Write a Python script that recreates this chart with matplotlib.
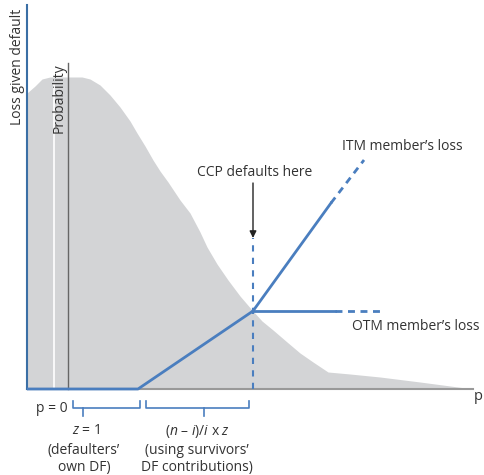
import matplotlib
matplotlib.use("Agg")
import matplotlib.pyplot as plt

plt.rcParams["font.family"] = ["Open Sans", "DejaVu Sans"]
plt.rcParams["mathtext.fontset"] = "custom"
plt.rcParams["mathtext.it"] = "Open Sans:italic"
plt.rcParams["mathtext.rm"] = "Open Sans"

# Probability density of losses (x = loss, y = height above axis)
dens_x = [0, 8, 15, 23, 55, 63, 73, 83, 93, 103, 110, 118, 126, 133, 141, 153,
          163, 173, 180, 190, 201, 213, 225, 235, 246, 260, 273, 286, 295, 301,
          323, 353, 393, 446]
dens_y = [296, 303, 310, 312, 312, 310, 304, 294, 282, 268, 256, 243, 229, 218,
          207, 189, 176, 157, 142, 125, 109, 93, 79, 68, 59, 47, 36, 27, 21, 17,
          15, 12, 7, 0]

# Loss given default path and the two branches after CCP default
lgd_x = [0, 111, 226]
lgd_y = [0, 0, 78]
itm_solid_x, itm_solid_y = [226, 304], [78, 186]
itm_dash_x, itm_dash_y = [304, 337], [186, 229]
otm_solid_x, otm_solid_y = [226, 308], [78, 78]
otm_dash_x, otm_dash_y = [308, 355], [78, 78]
ccp_x = 226

BLUE = "#4a7ebf"
GREY = "#d3d4d6"
TXT = "#333333"
FS = 10

fig = plt.figure(figsize=(4.85, 4.75), dpi=100)
ax = fig.add_axes([0, 0, 1, 1])
ax.set_xlim(-27, 458)
ax.set_ylim(-86, 389)
ax.axis("off")

ax.fill_between(dens_x, 0, dens_y, color=GREY, lw=0, zorder=1)
ax.plot([27, 27], [0, 304], color="white", lw=1.2, zorder=2)
ax.plot([41, 41], [0, 326], color="#666666", lw=1.0, zorder=2)
ax.text(32, 291, "Probability", rotation=90, ha="center", va="center",
        fontsize=FS, color=TXT, zorder=3)

# axes
ax.plot([0, 446], [0, 0], color="#999999", lw=1.5, zorder=2)
ax.plot([0, 0], [0, 384], color="#3a6fa5", lw=1.5, zorder=4)
ax.text(-9, 322, "Loss given default", rotation=90, ha="center", va="center",
        fontsize=FS, color=TXT)
ax.text(451, -7, "p", ha="center", va="center", fontsize=FS + 0.5, color=TXT)

# loss lines
ax.plot(lgd_x, lgd_y, color=BLUE, lw=2, zorder=5, solid_capstyle="butt")
ax.plot(itm_solid_x, itm_solid_y, color=BLUE, lw=2, zorder=5)
ax.plot(itm_dash_x, itm_dash_y, color=BLUE, lw=2, ls=(0, (2.5, 2)), zorder=5)
ax.plot(otm_solid_x, otm_solid_y, color=BLUE, lw=2, zorder=5)
ax.plot(otm_dash_x, otm_dash_y, color=BLUE, lw=2, ls=(0, (2.5, 2)), zorder=5)
ax.plot([ccp_x, ccp_x], [0, 151], color=BLUE, lw=1.5, ls=(0, (3, 3)), zorder=4)

ax.annotate("", xy=(ccp_x, 151), xytext=(ccp_x, 206),
            arrowprops=dict(arrowstyle="-|>", color="#222222", lw=1.0,
                            mutation_scale=10, shrinkA=0, shrinkB=0))
ax.text(ccp_x + 2, 217, "CCP defaults here", ha="center", va="center",
        fontsize=FS, color=TXT)
ax.text(315, 243, "ITM member\u2019s loss", ha="left", va="center",
        fontsize=FS, color=TXT)
ax.text(325, 63, "OTM member\u2019s loss", ha="left", va="center",
        fontsize=FS, color=TXT)

# brackets below the axis
for x0, x1, xt in [(46, 113, 56), (119, 222, 177)]:
    ax.plot([x0, x0, x1, x1], [-12, -19, -19, -12], color=BLUE, lw=1.2)
    ax.plot([xt, xt], [-19, -27], color=BLUE, lw=1.2)

ax.text(41, -19, "p = 0", ha="right", va="center", fontsize=FS, color=TXT)
ax.text(59, -42, r"$z$ = 1", ha="center", va="center", fontsize=FS, color=TXT)
ax.text(57, -70, "(defaulters\u2019\nown DF)", ha="center", va="center",
        fontsize=FS, color=TXT, linespacing=1.25)
ax.text(170, -42, "($n$ \u2013 $i$)/$i$ x $z$", ha="center", va="center",
        fontsize=FS, color=TXT)
ax.text(170, -70, "(using survivors\u2019\nDF contributions)", ha="center",
        va="center", fontsize=FS, color=TXT, linespacing=1.25)

fig.savefig("out.png", dpi=100)
